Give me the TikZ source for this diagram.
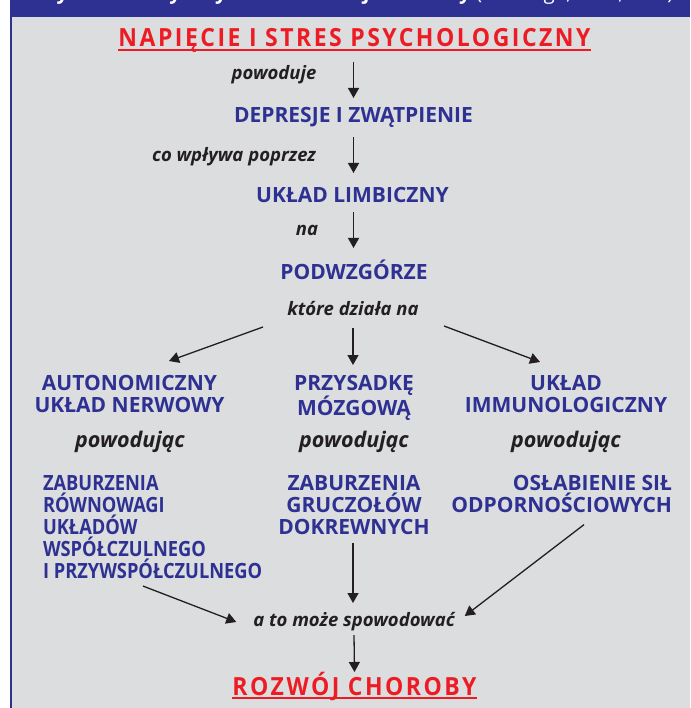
\documentclass[tikz,border=0pt]{standalone}
\usepackage{fontspec}
\setmainfont{Open Sans}
\newfontfamily\narrowlbl[FakeStretch=0.87]{Open Sans}
\newfontfamily\redtitle[FakeStretch=0.92,LetterSpace=10]{Open Sans}
\usetikzlibrary{arrows.meta}
\definecolor{hblue}{HTML}{2E3192}
\definecolor{tblue}{HTML}{2E3192}
\definecolor{tred}{HTML}{ED1C24}
\definecolor{bggray}{HTML}{DCDDDF}
\definecolor{ink}{HTML}{231F20}
\begin{document}
\begin{tikzpicture}[x=1pt,y=-1pt,
  lbl/.style={font=\bfseries\fontsize{21}{22.2}\selectfont, text=tblue, inner sep=0pt, outer sep=0pt},
  nlbl/.style={font=\narrowlbl\bfseries\fontsize{21}{22.2}\selectfont, text=tblue, inner sep=0pt, outer sep=0pt},
  conn/.style={font=\bfseries\itshape\fontsize{18.5}{22}\selectfont, text=ink, inner sep=0pt, outer sep=0pt},
  bigconn/.style={font=\bfseries\itshape\fontsize{21.5}{24}\selectfont, text=ink, inner sep=0pt, outer sep=0pt},
  ttl/.style={font=\redtitle\bfseries\fontsize{25}{27}\selectfont, text=tred, inner sep=0pt, outer sep=0pt},
  uline/.style={draw=tred, line width=1.6pt},
  arr/.style={draw=ink, line width=1.3pt, -{Triangle[length=10pt,width=11pt]}}]
\useasboundingbox (0,0) rectangle (690,708);
% frame
\fill[white] (0,0) rectangle (690,708);
\fill[bggray] (12,17) rectangle (690,708);
\fill[hblue] (9.5,0) rectangle (690,17);
\fill[hblue] (9.5,0) rectangle (12,708);
\begin{scope}
  \clip (9.5,0) rectangle (690,17);
  \node[anchor=base, text=white, inner sep=0pt, font=\fontsize{20.5}{22}\selectfont] (hdr) at (353.5,-0.5)
    {\textbf{Psychosomatyczny model rozwoju choroby} (M. Wirga,1982, s.82)};
\end{scope}
% main column
\node[ttl, anchor=base] (t1) at (354.5,47) {NAPIĘCIE I STRES PSYCHOLOGICZNY};
\draw[uline] ([yshift=-3pt]t1.base west) -- ([yshift=-3pt]t1.base east);
\node[conn, anchor=base] (c1) at (274,80) {powoduje};
\node[lbl, anchor=base] (dep) at (353.5,123) {DEPRESJE I ZWĄTPIENIE};
\node[conn, anchor=base] (c2) at (234,162) {co wpływa poprzez};
\node[lbl, anchor=base] (lim) at (352.5,203) {UKŁAD LIMBICZNY};
\node[conn, anchor=base] (c3) at (307,236) {na};
\node[lbl, anchor=base] (pod) at (354,279) {PODWZGÓRZE};
\node[conn, anchor=base] (kdn) at (353,315) {które działa na};
% three branches
\node[lbl, anchor=north, align=center] (aut) at (129.5,375) {AUTONOMICZNY\\UKŁAD NERWOWY};
\node[lbl, anchor=north, align=center] (prz) at (354,375) {PRZYSADKĘ\\MÓZGOWĄ};
\node[lbl, anchor=north, align=center] (imm) at (566,375) {UKŁAD\\IMMUNOLOGICZNY};
\node[bigconn, anchor=base] (p1) at (130,447) {powodując};
\node[bigconn, anchor=base] (p2) at (354,447) {powodując};
\node[bigconn, anchor=base] (p3) at (566,447) {powodując};
\node[nlbl, anchor=north west, align=left] (zab) at (43,475) {ZABURZENIA\\RÓWNOWAGI\\UKŁADÓW\\WSPÓŁCZULNEGO\\I PRZYWSPÓŁCZULNEGO};
\node[lbl, anchor=north, align=center] (gru) at (354,475) {ZABURZENIA\\GRUCZOŁÓW\\DOKREWNYCH};
\node[lbl, anchor=north east, align=right] (ods) at (672,475) {OSŁABIENIE SIŁ\\ODPORNOŚCIOWYCH};
\node[conn, anchor=base] (atm) at (354,626) {a to może spowodować};
\node[ttl, anchor=base] (roz) at (354.5,695) {ROZWÓJ CHOROBY};
\draw[uline] ([yshift=-3pt]roz.base west) -- ([yshift=-3pt]roz.base east);
% arrows
\draw[arr] ([xshift=-1pt,yshift=-15pt]t1.base) -- ([yshift=25pt]dep.base);
\draw[arr] ([yshift=-14pt]dep.base) -- ([xshift=1pt,yshift=30pt]lim.base);
\draw[arr] ([xshift=1pt,yshift=-9pt]lim.base) -- ([xshift=-0.5pt,yshift=31pt]pod.base);
\draw[arr] ([xshift=-90pt,yshift=-12pt]kdn.base) -- ([xshift=39.5pt,yshift=14pt]aut.north);
\draw[arr] ([yshift=-13pt]kdn.base) -- ([xshift=-1pt,yshift=10pt]prz.north);
\draw[arr] ([xshift=91pt,yshift=-11pt]kdn.base) -- ([xshift=-26pt,yshift=13pt]imm.north);
\draw[arr] ([xshift=100pt,yshift=-7pt]zab.south west) -- ([xshift=-17pt,yshift=4pt]atm.base west);
\draw[arr] ([xshift=-1pt,yshift=-8pt]gru.south) -- ([xshift=-1pt,yshift=23pt]atm.base);
\draw[arr] ([xshift=-88pt,yshift=-12pt]ods.south east) -- ([xshift=10pt,yshift=10pt]atm.base east);
\draw[arr] ([yshift=-9pt]atm.base) -- ([yshift=23pt]roz.base);
\end{tikzpicture}
\end{document}
